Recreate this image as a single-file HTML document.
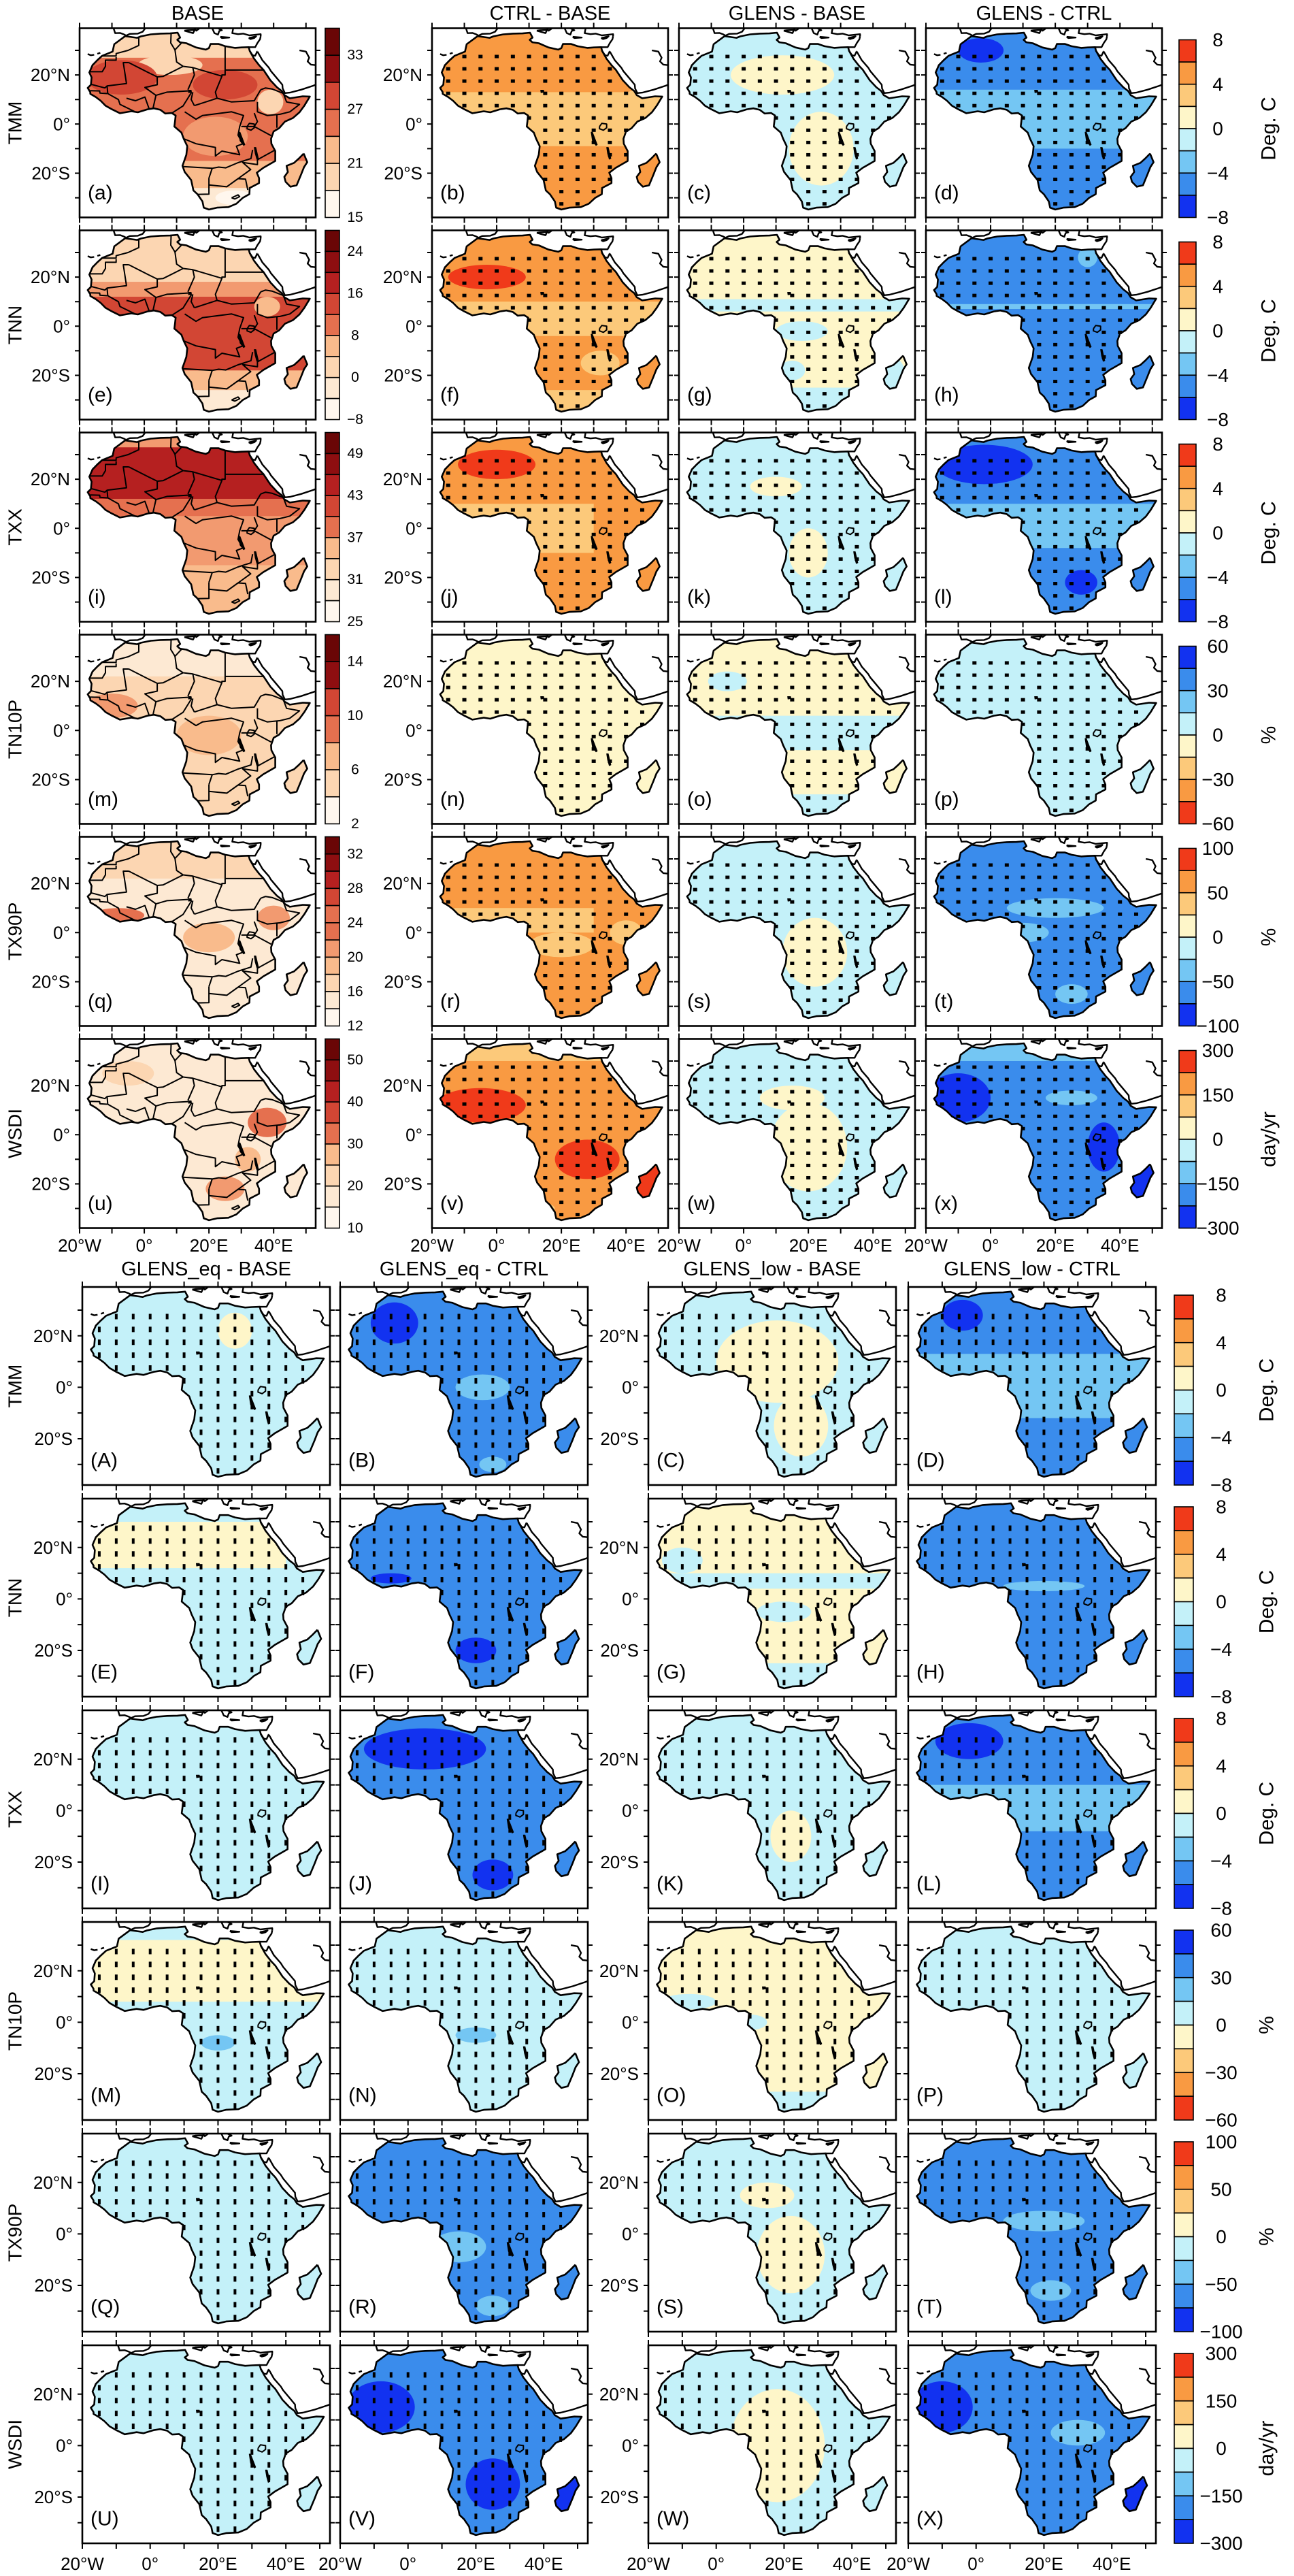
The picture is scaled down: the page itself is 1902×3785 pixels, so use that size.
<!DOCTYPE html>
<html>
<head>
<meta charset="utf-8">
<style>
html,body{margin:0;padding:0;background:#fff;}
svg{display:block;}
text{font-family:"Liberation Sans Narrow","Liberation Sans",sans-serif;fill:#000;}
</style>
</head>
<body>
<svg id="fig" xmlns="http://www.w3.org/2000/svg" width="1902" height="3785" viewBox="0 0 1902 3785"></svg>
<script>
// ---------- data arrays ----------
const rowNames=['TMM','TNN','TXX','TN10P','TX90P','WSDI'];
const topTitles=['BASE','CTRL - BASE','GLENS - BASE','GLENS - CTRL'];
const bottomTitles=['GLENS_eq - BASE','GLENS_eq - CTRL','GLENS_low - BASE','GLENS_low - CTRL'];
const cbLabels=[[8,4,0,-4,-8],[8,4,0,-4,-8],[8,4,0,-4,-8],[60,30,0,-30,-60],[100,50,0,-50,-100],[300,150,0,-150,-300]];
const cbUnits=['Deg. C','Deg. C','Deg. C','%','%','day/yr'];
const cbReversed=[false,false,false,true,false,false];
const baseTicks=[[33,27,21,15],[24,16,8,0,-8],[49,43,37,31,25],[14,10,6,2],[32,28,24,20,16,12],[50,40,30,20,10]];
const baseBoxes=[7,9,9,7,11,9];
const lonTicks=[-20,0,20,40];
const lonTickLabels=['20°W','0°','20°E','40°E'];
const latTicks=[20,0,-20];
const latTickLabels=['20°N','0°','20°S'];
const divColors=['#1232f0','#3a8cec','#74c6f3','#c4f1f9','#fef6c9','#fcc97a','#f99a42','#f03a1a'];
const seqColors=['#fff7ee','#fde9d3','#fcd6b2','#f9bb8c','#f29a70','#e5704f','#d24634','#b52020','#8e0e10','#6a0606','#4a0000'];
const topLetters=[['a','b','c','d'],['e','f','g','h'],['i','j','k','l'],['m','n','o','p'],['q','r','s','t'],['u','v','w','x']];

// zone arrays: ['r',lon0,lat0,lon1,lat1,class] or ['e',lonC,latC,rxDeg,ryDeg,class]
const zonesTMM=[
 [['r',-25,40,60,-40,5],['r',-25,40,60,27,2],['e',8,24,10,4,2],['e',-7,19,11,7,6],['e',25,16,10,6,6],['e',0,8,6,4,5],['e',39,9,4,5,2],['e',22,-5,10,8,4],['r',-25,-15,60,-40,3],['r',-25,-26,60,-40,1],['e',28,-30,6,3,0]],
 [['r',-25,40,60,-40,6],['r',-25,13,60,-9,5],['e',44,8,6,6,5]],
 [['r',-25,40,60,-40,3],['e',12,20,16,8,4],['e',24,-10,10,15,4],['r',-25,-26,60,-40,3]],
 [['r',-25,40,60,-40,1],['r',-25,14,60,-10,2],['e',-3,30,7,5,0]]
];
const zonesTNN=[
 [['r',-25,40,60,-40,6],['r',-25,40,60,18,2],['r',-25,18,60,12,4],['e',38,8,4,4,3],['r',-25,-18,60,-40,3],['r',-25,-26,60,-40,1]],
 [['r',-25,40,60,-40,6],['e',-3,20,12,5,7],['r',-25,10,60,-4,5],['e',32,-15,6,5,5],['r',-25,-26,60,-40,5]],
 [['r',-25,40,60,-40,4],['r',-25,11,60,6,3],['e',18,-2,8,4,3],['e',15,-18,4,4,3],['r',-25,-25,60,-40,3],['e',45,-20,5,8,3]],
 [['r',-25,40,60,-40,1],['e',30,28,3,4,2],['r',-25,9,60,7,2]]
];
const zonesTXX=[
 [['r',-25,40,60,-40,4],['r',-25,33,60,12,7],['r',-25,40,60,33,4],['r',-25,12,60,5,5],['r',-25,-15,60,-40,3]],
 [['r',-25,40,60,-40,6],['e',0,26,12,6,7],['r',-25,10,30,-10,5],['e',20,2,10,6,5]],
 [['r',-25,40,60,-40,3],['e',20,-10,6,10,4],['e',10,17,8,4,4]],
 [['r',-25,40,60,-40,1],['e',-2,26,15,8,0],['r',-25,10,60,-8,2],['e',28,-22,5,5,0]]
];
const zonesTN10P=[
 [['r',-25,40,60,-40,2],['r',-25,40,60,22,1],['e',-10,10,8,5,4],['e',20,-2,10,8,3]],
 [['r',-25,40,60,-40,4]],
 [['r',-25,40,60,-40,4],['r',-25,6,60,-8,3],['r',-25,-26,60,-40,3],['e',-5,20,6,4,3]],
 [['r',-25,40,60,-40,3]]
];
const zonesTX90P=[
 [['r',-25,40,60,-40,1],['r',-25,40,60,22,2],['e',-8,7,8,3,5],['e',40,6,5,5,4],['e',20,-2,8,6,3]],
 [['r',-25,40,60,-40,6],['r',-25,10,30,0,5],['e',20,-5,10,5,5],['e',40,0,5,5,5]],
 [['r',-25,40,60,-40,3],['e',22,-8,10,14,4]],
 [['r',-25,40,60,-40,1],['e',20,10,15,4,2],['e',10,0,8,4,2],['e',25,-25,5,4,2]]
];
const zonesWSDI=[
 [['r',-25,40,60,-40,1],['e',-5,25,8,5,2],['e',38,5,6,6,5],['e',25,-22,6,5,4],['e',32,-10,4,5,3]],
 [['r',-25,40,60,-40,6],['e',-5,12,14,7,7],['e',28,-10,10,8,7],['e',47,-19,4,7,7],['r',-25,40,60,30,5],['e',10,-30,8,3,5]],
 [['r',-25,40,60,-40,3],['e',20,-5,12,18,4],['e',15,15,10,5,4]],
 [['r',-25,40,60,-40,1],['e',-10,15,10,10,0],['e',35,-5,5,10,0],['r',-25,40,60,30,2],['e',25,15,8,3,2],['e',47,-19,4,7,0]]
];
const topZones=[zonesTMM,zonesTNN,zonesTXX,zonesTN10P,zonesTX90P,zonesWSDI];

const botTMM=[[['r',-25,40,60,-40,3],['e',25,22,5,7,4]],[['r',-25,40,60,-40,1],['e',-4,25,7,8,0],['e',22,0,8,5,2],['e',25,-30,4,3,2]],[['r',-25,40,60,-40,3],['e',18,10,18,16,4],['e',25,-15,8,12,4],['r',-25,-27,60,-40,3]],[['r',-25,40,60,-40,1],['r',-25,13,60,-12,2],['e',-4,28,6,6,0]]];
const botTNN=[[['r',-25,40,60,-40,3],['r',-25,30,40,12,4],['r',-25,40,60,30,3]],[['r',-25,40,60,-40,1],['e',20,-20,6,5,0],['e',-5,8,6,2,0]],[['r',-25,40,60,-40,4],['r',-25,10,60,4,3],['e',20,-5,8,4,3],['r',-25,-25,60,-40,3],['e',-10,15,6,5,3]],[['r',-25,40,60,-40,1],['e',20,5,12,2,2]]];
const botTXX=[[['r',-25,40,60,-40,3]],[['r',-25,40,60,-40,1],['e',5,24,18,8,0],['e',25,-25,6,6,0]],[['r',-25,40,60,-40,3],['e',22,-10,6,10,4]],[['r',-25,40,60,-40,1],['e',-2,27,10,7,0],['r',-25,10,60,-8,2]]];
const botTN10P=[[['r',-25,40,60,-40,3],['r',-25,32,60,8,4],['e',20,-8,5,3,2]],[['r',-25,40,60,-40,3],['e',20,-5,6,3,2]],[['r',-25,40,60,-40,4],['e',-8,8,8,3,3],['r',-25,-27,60,-40,3],['e',10,0,5,3,3]],[['r',-25,40,60,-40,3]]];
const botTX90P=[[['r',-25,40,60,-40,3]],[['r',-25,40,60,-40,1],['e',15,-5,8,6,2],['e',25,-28,5,4,2]],[['r',-25,40,60,-40,3],['e',22,-8,10,15,4],['e',15,15,8,5,4]],[['r',-25,40,60,-40,1],['e',20,5,12,4,2],['e',22,-22,6,4,2]]];
const botWSDI=[[['r',-25,40,60,-40,3]],[['r',-25,40,60,-40,1],['e',-8,15,10,10,0],['e',25,-15,8,10,0],['e',47,-19,4,7,0]],[['r',-25,40,60,-40,3],['e',18,0,14,22,4]],[['r',-25,40,60,-40,1],['e',-10,15,9,10,0],['e',47,-19,4,7,0],['e',30,5,8,5,2]]];
const botZones=[botTMM,botTNN,botTXX,botTN10P,botTX90P,botWSDI];

// ---------- geography ----------
const africa=[[-5.9,35.8],[-9.3,32.5],[-9.8,29.5],[-13,27.8],[-14.5,26],[-16,24],[-17,21],[-16.3,19],[-16.5,16],[-17.5,14.7],[-16.7,13],[-16.7,12.3],[-15,11],[-13.5,9.5],[-12,7.5],[-10,6],[-7.5,4.4],[-4,5.2],[-2,4.8],[1,6],[3,6.4],[5,5.8],[6.5,4.3],[8.5,4.5],[9.7,3.5],[9.5,1],[9.3,-1],[11.5,-3.5],[12.2,-6],[13.3,-9],[13,-12.5],[11.8,-17],[12.5,-19.5],[14.5,-22.8],[15.2,-27],[16.5,-28.6],[18,-31.5],[18.4,-34],[20,-34.8],[22.5,-34],[26,-33.8],[28.5,-32.4],[30.5,-30],[32.5,-28.5],[32.6,-26],[35.5,-24],[35.5,-22],[34.8,-19.8],[36.8,-17.8],[40.5,-15],[40.5,-11],[39.3,-8],[39.2,-6],[40,-3],[41.7,-1.7],[43.5,1],[46,2.5],[48,4.8],[49.5,7.5],[51.2,11.2],[49,11.3],[45,10.5],[43.3,11.8],[42.5,13.5],[41,15],[39,17.8],[37.4,21],[36.9,22],[35.5,24],[34,26.5],[32.6,29.8],[32.3,31.3],[30,31.2],[28,31],[25,31.7],[23,32.6],[20.5,32.6],[20,30.9],[19,30.3],[16,31.2],[13,32.9],[11,33.3],[10.2,34.3],[11.1,35.2],[10.3,37.2],[8,36.9],[5,36.8],[2,36.5],[-1,35.7],[-2.2,35.1],[-5.9,35.8]];
const madagascar=[[49.3,-12],[50.4,-15.5],[49.4,-17.5],[48.5,-20.5],[47.1,-24.9],[45.2,-25.5],[43.7,-23.5],[43.3,-21.5],[44.4,-19.5],[44,-17],[46.3,-15.8],[47.8,-14],[49.3,-12]];
const otherCoasts=[
 [[-9.5,39],[-9,37],[-7.5,37.1],[-6.3,36.5],[-5.6,36],[-4.5,36.7],[-2,36.8],[-0.5,37.6],[0.2,38.8],[-0.3,39.5]],
 [[12.4,38],[15.1,37],[15.6,38.3],[13.3,38.2],[12.4,38]],
 [[15.6,38.9],[16.1,38],[17.1,39],[16.5,39.8]],
 [[21,39],[21.7,37],[22.8,36.4],[23.2,37.9],[24,38.2],[22.8,39]],
 [[23.5,35.5],[26.3,35.2],[24,35],[23.5,35.5]],
 [[27.5,39],[27.2,37],[29,36.6],[30.6,36.8],[32.5,36.1],[36,36.6],[36,35.8]],
 [[36,35.8],[35.8,34.5],[35,33],[34.3,31.3],[32.3,31.3]],
 [[32.6,29.8],[33.5,28],[34.3,27.8],[34.9,29.5],[35,29.5]],
 [[35,29.5],[36.5,26],[38.5,23],[39.2,21.5],[40.8,19],[42.7,16],[42.8,14.5],[43.5,12.6],[45,12.8],[48.5,14],[52.2,15.6],[55,17]],
 [[32.3,35],[34.6,35.7],[34,35],[32.9,34.6],[32.3,35]],
 [[48,30],[50,29.5],[51,27],[50.5,25.5],[51.5,24.2],[53,24],[55,25]],
 [[-17.5,28.5],[-16.5,28],[-15.5,28.2]],[[-14.5,28.6],[-13.6,29]]
];
const borders=[
 [[-1.7,35],[-1.7,32],[-5,30],[-8.7,28.7],[-8.7,27.7],[-13,27.7]],
 [[-8.7,27.3],[-8.7,26],[-12,26],[-12,23.5],[-13,21.3],[-17,21.3]],
 [[-4.8,25],[-6.5,25],[-5.5,16.5],[-11.5,15.5],[-12.2,14.7],[-16.5,16.2]],
 [[-4.8,25],[1.2,21],[4,19.2],[5.8,19.4],[12,23.5]],
 [[9.5,30.2],[10,25.3],[12,23.5]],
 [[25,31.7],[25,22]],
 [[12,23.5],[15,23],[24,19.5],[24,20],[25,20],[25,22]],
 [[25,22],[37,22]],
 [[15,23],[15.5,20],[13.5,14]],
 [[4,19.2],[4,16],[0.2,14.9],[3.6,11.7],[7,13],[13.5,13.5]],
 [[24,19.5],[22,13],[22.5,10.5],[15.5,7.5]],
 [[22.5,10.5],[27,9],[34,9.5],[36,14]],
 [[36,14],[37.5,14.7],[39.5,14.3],[43,12.5],[44,9],[48,8],[45,5],[42,4],[38,3.5],[35,5],[35,9]],
 [[41,-1.5],[41,3.9]],
 [[34,4.5],[35,1],[34,-1],[37.5,-3.5],[39.2,-4.7]],
 [[12.5,5],[16,2],[18,3.5],[27,5],[30.7,3.5],[29.5,-1],[29,-4.5],[30.5,-8],[28.5,-9],[29.5,-12.5],[24,-11],[22,-13],[22,-9.5],[16,-8],[12.3,-6]],
 [[12,-17.3],[21,-18],[23,-17.5],[25.2,-17.8],[29,-15.7],[33,-14],[33.5,-10.5]],
 [[20,-22],[20,-28.5],[16.5,-28.6]],[[20,-22],[21,-18]],
 [[20,-24.8],[25.5,-25.5],[29,-22.2],[31.3,-22.4],[32,-26.8]],
 [[29,-22.2],[32.9,-18.5],[30.4,-15.6],[35,-16.5],[35,-14.5],[40.5,-10.5]],
 [[-11.5,15.5],[-11.3,12.4],[-8,10],[-7.5,8],[-3,5.1]],
 [[-5.5,10.5],[-2.7,9.5],[0.2,11],[1.5,6.2]],
 [[2.7,6.4],[3.6,11.7]],
 [[8.7,4.6],[12,7.4],[14.6,12.9]],
 [[15.5,7.5],[14.5,10],[15,13]],
 [[8.3,36.9],[8.2,33],[9.5,30.2],[11.5,33]],
 [[-16.7,13.6],[-13.8,13.5],[-13.7,12.6],[-11.5,12.4]],
 [[30,-1],[34,-1]],[[27,-30],[29,-28.8],[29.5,-29.5],[28,-30.5],[27,-30]]
];
const victoria=[[31.8,-1],[32.5,0.3],[34,0],[34,-1.5],[33,-2.5],[31.8,-1.9],[31.8,-1]];
const tanganyika=[[29.2,-3.3],[29.6,-3.3],[31.1,-8.4],[30.7,-8.7],[29.6,-6.8]];
const malawi=[[34,-9.5],[34.5,-9.5],[35.3,-14],[34.8,-14.3],[34.3,-12]];
const lakeChad=[[13.6,13.8],[14.5,13.8],[14.6,13],[13.7,12.8]];

// ---------- helpers ----------
const NS='http://www.w3.org/2000/svg';
const svg=document.getElementById('fig');
let clipCount=0;
function mk(tag,attrs,parent){const e=document.createElementNS(NS,tag);for(const k in attrs)e.setAttribute(k,attrs[k]);(parent||svg).appendChild(e);return e;}
function inPoly(pt,poly){let c=false;for(let i=0,j=poly.length-1;i<poly.length;j=i++){const xi=poly[i][0],yi=poly[i][1],xj=poly[j][0],yj=poly[j][1];if(((yi>pt[1])!==(yj>pt[1]))&&(pt[0]<(xj-xi)*(pt[1]-yi)/(yj-yi)+xi))c=!c;}return c;}
function txt(x,y,s,size,anchor,name,rot,parent){
 const t=mk('text',{x:x,y:y,'font-size':size,'text-anchor':anchor||'middle','dominant-baseline':'central'},parent);
 if(rot){t.setAttribute('transform','rotate('+rot+' '+x+' '+y+')');}
 t.textContent=s;
 
 
 return t;
}

function drawPanel(X,Y,W,H,zones,pal,isBase,letter,dotW,dotH){
 const P=(lon,lat)=>[X+(lon+20)/73*W,Y+(39-lat)/77*H];
 const path=pts=>pts.map((p,i)=>{const q=P(p[0],p[1]);return (i?'L':'M')+q[0].toFixed(1)+' '+q[1].toFixed(1);}).join(' ');
 const g=mk('g',{});
 
 
 const id='c'+(clipCount++);
 const cp=mk('clipPath',{id:id},g);
 mk('path',{d:path(africa)+' Z '+path(madagascar)+' Z'},cp);
 const idr='r'+(clipCount++);
 const cr=mk('clipPath',{id:idr},g);
 mk('rect',{x:X,y:Y,width:W,height:H},cr);
 const fg=mk('g',{'clip-path':'url(#'+id+')'},g);
 
 
 zones.forEach(z=>{
  let e;
  if(z[0]==='r'){const a=P(z[1],z[2]),b=P(z[3],z[4]);e=mk('rect',{x:a[0],y:a[1],width:b[0]-a[0],height:b[1]-a[1],fill:pal[z[5]]},fg);}
  else{const c=P(z[1],z[2]);e=mk('ellipse',{cx:c[0],cy:c[1],rx:z[3]*W/73,ry:z[4]*H/77,fill:pal[z[5]]},fg);}
  
  
 });
 const lg=mk('g',{'clip-path':'url(#'+idr+')',fill:'none',stroke:'#000','stroke-linejoin':'round'},g);
 const coast=mk('path',{d:path(africa)+' '+path(madagascar),'stroke-width':2.6},lg);
 
 
 otherCoasts.forEach(c=>{const e=mk('path',{d:path(c),'stroke-width':2.4},lg);
  
  });
 if(isBase){borders.forEach(b=>{const e=mk('path',{d:path(b),'stroke-width':2},lg);
  
  });}
 const vic=mk('path',{d:path(victoria),'stroke-width':2},lg);
 
 
 [tanganyika,malawi,lakeChad].forEach(l=>{const e=mk('path',{d:path(l)+' Z',fill:'#000','stroke-width':1},lg);
  
  });
 if(!isBase){
  for(let lat=27.5;lat>-35;lat-=5){for(let lon=-15;lon<=50;lon+=5){
   if(inPoly([lon,lat],africa)){const q=P(lon,lat);
    const d=mk('rect',{x:q[0]-dotW/2,y:q[1]-dotH/2,width:dotW,height:dotH,fill:'#000'},g);
    
    }
  }}
 }
 const fr=mk('rect',{x:X,y:Y,width:W,height:H,fill:'none',stroke:'#000','stroke-width':2.6},g);
 
 
 let td='';
 for(let lon=-20;lon<=50;lon+=10){const q=P(lon,0);td+='M'+q[0]+' '+Y+'v-8M'+q[0]+' '+(Y+H)+'v8';}
 for(let lat=30;lat>=-30;lat-=10){const q=P(0,lat);td+='M'+X+' '+q[1]+'h-7M'+(X+W)+' '+q[1]+'h7';}
 const tk=mk('path',{d:td,stroke:'#000','stroke-width':2,fill:'none'},g);
 
 
 txt(X+12,Y+H-36,'('+letter+')',30,'start','panel-label-'+letter,0,g);
 return P;
}

function colorbar(X,Y,W,H,colors,labels,labelIdx,nBoxes,labelX,fs,name){
 const g=mk('g',{});
 
 
 const bh=H/nBoxes;
 for(let i=0;i<nBoxes;i++){
  const r=mk('rect',{x:X,y:Y+i*bh,width:W,height:bh,fill:colors[i],stroke:'#000','stroke-width':1.6},g);
  
  
 }
 labels.forEach((l,i)=>{txt(labelX,Y+labelIdx[i]*bh,String(l).replace('-','−'),fs,'middle','colorbar-label',0,g);});
}

// ---------- top section ----------
const topX=[117,635,998,1361],topW=347,topH=278,topY0=41.5,topPitch=297;
topTitles.forEach((t,i)=>txt(topX[i]+topW/2,20,t,29,'middle','column-title'));
for(let r=0;r<6;r++){
 const Y=topY0+r*topPitch;
 txt(22,Y+topH/2,rowNames[r],28,'middle','row-label',-90);
 for(let c=0;c<4;c++){
  const isBase=c===0;
  drawPanel(topX[c],Y,topW,topH,topZones[r][c],isBase?seqColors:divColors,isBase,topLetters[r][c],6,5);
 }
 [0,1].forEach(c=>{latTicks.forEach((lt,k)=>{const yy=Y+(39-lt)/77*topH;txt(topX[c]-14,yy,latTickLabels[k],26,'end','y-tick-label');});});
 const nb=baseBoxes[r];
 const sc=[];for(let i=0;i<nb;i++){sc.push(seqColors[Math.round((nb-1-i)*9/(nb-1))]);}
 const idx=baseTicks[r].map((v,i)=>1+2*i);
 colorbar(478,Y,21,topH,sc,baseTicks[r],idx,nb,522,21,'base-colorbar-'+rowNames[r]);
 const dc=cbReversed[r]?divColors.slice():divColors.slice().reverse();
 colorbar(1733,Y+17,25,topH-17,dc,cbLabels[r],[0,2,4,6,8],8,1790,28,'diff-colorbar-'+rowNames[r]);
 txt(1865,Y+17+(topH-17)/2,cbUnits[r],30,'middle','colorbar-unit',-90);
}
[0,1,2,3].forEach(c=>{lonTicks.forEach((lo,k)=>{txt(topX[c]+(lo+20)/73*topW,1830,lonTickLabels[k],26,'middle','x-tick-label');});});

// ---------- bottom section ----------
const botX=[121,500,953,1335],botW=364,botH=291,botY0=1891,botPitch=311;
bottomTitles.forEach((t,i)=>txt(botX[i]+botW/2,1865,t,29,'middle','column-title'));
for(let r=0;r<6;r++){
 const Y=botY0+r*botPitch;
 txt(22,Y+botH/2,rowNames[r],28,'middle','row-label',-90);
 for(let c=0;c<4;c++){
  const letter=topLetters[r][c].toUpperCase();
  drawPanel(botX[c],Y,botW,botH,botZones[r][c],divColors,false,letter,4,8);
 }
 [0,2].forEach(c=>{latTicks.forEach((lt,k)=>{const yy=Y+(39-lt)/77*botH;txt(botX[c]-14,yy,latTickLabels[k],26,'end','y-tick-label');});});
 const dc=cbReversed[r]?divColors.slice():divColors.slice().reverse();
 colorbar(1726,Y+12,28,botH-12,dc,cbLabels[r],[0,2,4,6,8],8,1795,28,'diff-colorbar-bottom-'+rowNames[r]);
 txt(1862,Y+12+(botH-12)/2,cbUnits[r],30,'middle','colorbar-unit',-90);
}
[0,1,2,3].forEach(c=>{lonTicks.forEach((lo,k)=>{txt(botX[c]+(lo+20)/73*botW,3767,lonTickLabels[k],26,'middle','x-tick-label');});});
</script>
</body>
</html>
